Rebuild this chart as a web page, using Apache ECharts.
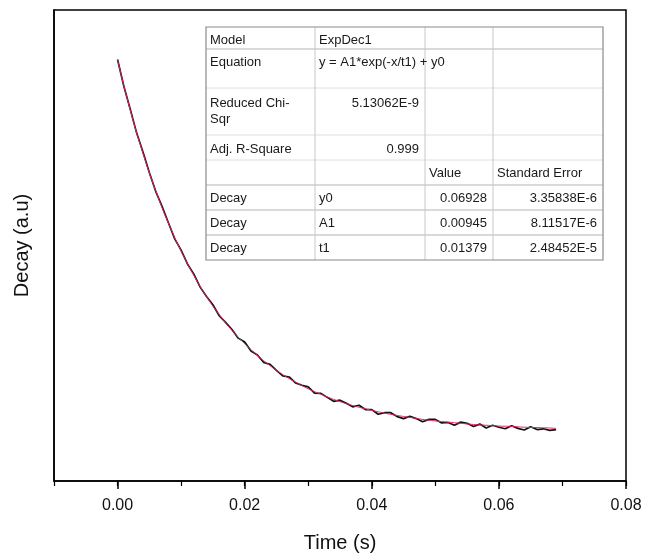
<!DOCTYPE html>
<html>
<head>
<meta charset="utf-8">
<script src="https://cdn.jsdelivr.net/npm/echarts@6/dist/echarts.min.js"></script>
<style>
  html, body { margin: 0; padding: 0; background: #fff; }
  #chart { width: 647px; height: 558px; }
</style>
</head>
<body>
<div id="chart"></div>
<script>
// measured decay (black trace), one sample per ms
const timeS = [
  0.000, 0.001, 0.002, 0.003, 0.004, 0.005, 0.006, 0.007, 0.008, 0.009,
  0.010, 0.011, 0.012, 0.013, 0.014, 0.015, 0.016, 0.017, 0.018, 0.019,
  0.020, 0.021, 0.022, 0.023, 0.024, 0.025, 0.026, 0.027, 0.028, 0.029,
  0.030, 0.031, 0.032, 0.033, 0.034, 0.035, 0.036, 0.037, 0.038, 0.039,
  0.040, 0.041, 0.042, 0.043, 0.044, 0.045, 0.046, 0.047, 0.048, 0.049,
  0.050, 0.051, 0.052, 0.053, 0.054, 0.055, 0.056, 0.057, 0.058, 0.059,
  0.060, 0.061, 0.062, 0.063, 0.064, 0.065, 0.066, 0.067, 0.068, 0.069
]
const decayMeasured = [
  0.07874, 0.07805, 0.07747, 0.07687, 0.07638, 0.07586, 0.07538, 0.07500, 0.07458, 0.07417,
  0.07388, 0.07353, 0.07327, 0.07294, 0.07270, 0.07249, 0.07221, 0.07204, 0.07186, 0.07164,
  0.07154, 0.07131, 0.07121, 0.07102, 0.07097, 0.07082, 0.07068, 0.07065, 0.07050, 0.07044,
  0.07040, 0.07024, 0.07023, 0.07013, 0.07003, 0.07006, 0.06998, 0.06989, 0.06993, 0.06982,
  0.06982, 0.06970, 0.06974, 0.06974, 0.06964, 0.06959, 0.06965, 0.06959, 0.06951, 0.06957,
  0.06957, 0.06948, 0.06949, 0.06942, 0.06950, 0.06947, 0.06939, 0.06945, 0.06935, 0.06942,
  0.06937, 0.06933, 0.06941, 0.06934, 0.06930, 0.06938, 0.06931, 0.06933, 0.06929, 0.06931
]

// fitted curve (red)
const fitTime = [
  0.000, 0.002, 0.004, 0.006, 0.008, 0.010, 0.012, 0.014, 0.016, 0.018,
  0.020, 0.022, 0.024, 0.026, 0.028, 0.030, 0.032, 0.034, 0.036, 0.038,
  0.040, 0.042, 0.044, 0.046, 0.048, 0.050, 0.052, 0.054, 0.056, 0.058,
  0.060, 0.062, 0.064, 0.066, 0.068, 0.069
]
const decayFit = [
  0.07873, 0.07745, 0.07635, 0.07540, 0.07457, 0.07386, 0.07324, 0.07270, 0.07224, 0.07184,
  0.07150, 0.07120, 0.07094, 0.07071, 0.07052, 0.07035, 0.07021, 0.07008, 0.06997, 0.06988,
  0.06980, 0.06973, 0.06967, 0.06962, 0.06957, 0.06953, 0.06950, 0.06947, 0.06944, 0.06942,
  0.06940, 0.06939, 0.06937, 0.06936, 0.06935, 0.06934
]

const xTickValues = [0, 0.02, 0.04, 0.06, 0.08]

// fit report table
const tableRows = [
  ['Model', 'ExpDec1', '', ''],
  ['Equation', 'y = A1*exp(-x/t1) + y0', '', ''],
  ['Reduced Chi-\nSqr', '5.13062E-9', '', ''],
  ['Adj. R-Square', '0.999', '', ''],
  ['', '', 'Value', 'Standard Error'],
  ['Decay', 'y0', '0.06928', '3.35838E-6'],
  ['Decay', 'A1', '0.00945', '8.11517E-6'],
  ['Decay', 't1', '0.01379', '2.48452E-5']
]

const FONT = '"Liberation Sans", Arial, sans-serif'
const colX = [206, 315, 425, 493, 603]
const rowY = [27, 49, 88, 135, 160, 185, 210, 235, 260]
const textTop = [5, 5, 7, 6, 5, 5, 5, 5]

function buildTable() {
  const els = []
  // grid lines of the table
  for (let i = 1; i < rowY.length - 1; i++) {
    const strong = [1, 5, 6, 7].indexOf(i) >= 0
    els.push({
      type: 'line',
      shape: { x1: colX[0], y1: rowY[i], x2: colX[4], y2: rowY[i] },
      style: { stroke: strong ? '#b4b4b4' : '#dedede', lineWidth: 1 },
      z: 10
    })
  }
  for (let j = 1; j < colX.length - 1; j++) {
    els.push({
      type: 'line',
      shape: { x1: colX[j], y1: rowY[0], x2: colX[j], y2: rowY[rowY.length - 1] },
      style: { stroke: '#c8c8c8', lineWidth: 1 },
      z: 10
    })
  }
  els.push({
    type: 'rect',
    shape: { x: colX[0], y: rowY[0], width: colX[4] - colX[0], height: rowY[rowY.length - 1] - rowY[0] },
    style: { fill: 'none', stroke: '#8a8a8a', lineWidth: 1.2 },
    z: 11
  })
  tableRows.forEach((row, r) => {
    row.forEach((txt, c) => {
      if (!txt) return
      // numbers sit right aligned in their cell
      const numeric = /^[0-9.]+(E-\d+)?$/.test(txt)
      els.push({
        type: 'text',
        x: numeric ? colX[c + 1] - 6 : colX[c] + 4,
        y: rowY[r] + textTop[r],
        style: {
          text: txt,
          font: '13px ' + FONT,
          fill: '#1a1a1a',
          align: numeric ? 'right' : 'left',
          verticalAlign: 'top',
          lineHeight: 16
        },
        z: 12
      })
    })
  })
  return els
}

const chart = echarts.init(document.getElementById('chart'))
chart.setOption({
  backgroundColor: '#fff',
  animation: false,
  textStyle: { fontFamily: FONT },
  grid: {
    left: 54,
    right: 21,
    top: 10,
    bottom: 76,
    show: true,
    borderColor: '#000',
    borderWidth: 1.5
  },
  xAxis: [
    {
      type: 'value',
      min: -0.01,
      max: 0.08,
      name: 'Time (s)',
      nameLocation: 'middle',
      nameGap: 52,
      nameTextStyle: { fontSize: 20, color: '#111', fontFamily: FONT },
      axisLine: { show: true, onZero: false, lineStyle: { color: '#000', width: 1.5 } },
      axisTick: { show: true, customValues: xTickValues, length: 8, lineStyle: { color: '#000', width: 1.5 } },
      axisLabel: {
        customValues: xTickValues,
        margin: 17,
        fontSize: 16,
        color: '#111',
        fontFamily: FONT,
        formatter: v => v.toFixed(2)
      },
      splitLine: { show: false }
    },
    {
      type: 'value',
      min: -0.01,
      max: 0.08,
      interval: 0.01,
      position: 'bottom',
      axisLine: { show: false, onZero: false },
      axisTick: { show: true, length: 5, lineStyle: { color: '#000', width: 1.2 } },
      axisLabel: { show: false },
      splitLine: { show: false }
    }
  ],
  yAxis: {
    type: 'value',
    min: 0.068,
    max: 0.080,
    name: 'Decay (a.u)',
    nameLocation: 'middle',
    nameGap: 22,
    nameTextStyle: { fontSize: 20, color: '#111', fontFamily: FONT },
    axisLine: { show: true, onZero: false, lineStyle: { color: '#000', width: 1.5 } },
    axisTick: { show: false },
    axisLabel: { show: false },
    splitLine: { show: false }
  },
  series: [
    {
      name: 'Decay',
      type: 'line',
      xAxisIndex: 0,
      data: timeS.map((t, i) => [t, decayMeasured[i]]),
      showSymbol: false,
      lineStyle: { color: '#111', width: 1.7 },
      z: 2
    },
    {
      name: 'Fit',
      type: 'line',
      xAxisIndex: 0,
      data: fitTime.map((t, i) => [t, decayFit[i]]),
      smooth: true,
      showSymbol: false,
      lineStyle: { color: '#e3245c', width: 1 },
      z: 3
    }
  ],
  graphic: buildTable()
})
</script>
</body>
</html>
